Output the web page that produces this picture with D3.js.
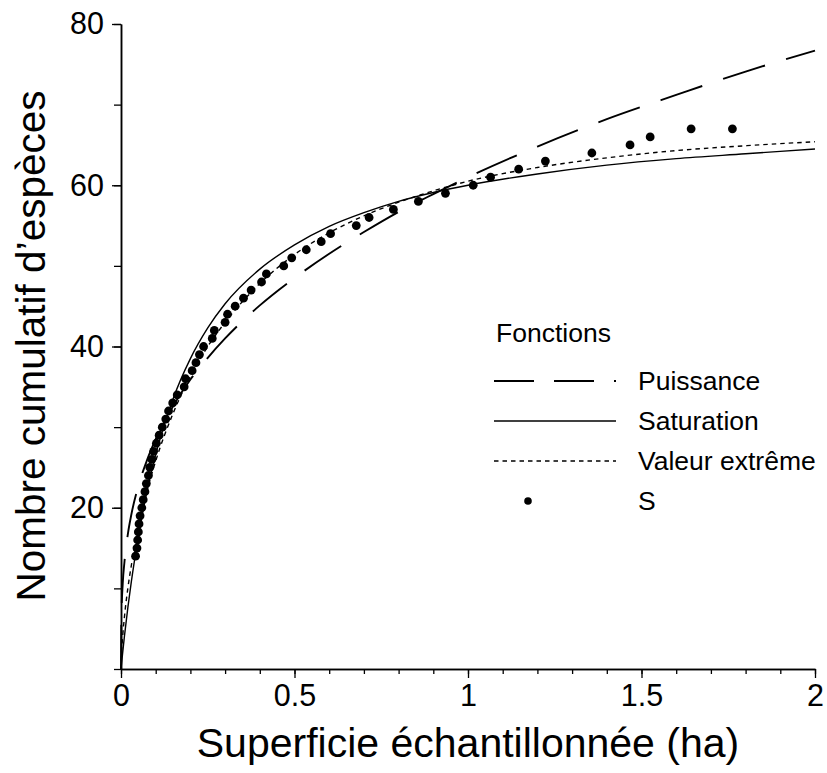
<!DOCTYPE html>
<html>
<head>
<meta charset="utf-8">
<script src="https://cdn.jsdelivr.net/npm/d3@7"></script>
<style>
  html, body { margin: 0; padding: 0; background: #fff; }
  svg { display: block; }
  text { font-family: "Liberation Sans", Arial, Helvetica, sans-serif; fill: #000; }
</style>
</head>
<body>
<svg id="chart" width="827" height="773"></svg>
<script>
// ---- data ----
const curveX = [0, 0.001, 0.005, 0.01, 0.02, 0.03, 0.05, 0.075, 0.1, 0.15, 0.2, 0.25, 0.3, 0.4, 0.5, 0.6, 0.7, 0.8, 0.9, 1.0, 1.2, 1.4, 1.6, 1.8, 2.0];
const puissanceY = [0, 6.2, 10.6, 13.3, 16.8, 19.2, 22.7, 25.9, 28.5, 32.6, 35.9, 38.6, 41.0, 45.1, 48.5, 51.5, 54.2, 56.7, 58.9, 61.0, 64.8, 68.2, 71.2, 74.1, 76.7];
const saturationY = [0, 0.4, 2.1, 4.1, 7.7, 10.9, 16.4, 22.1, 26.6, 33.5, 38.5, 42.3, 45.3, 49.6, 52.6, 54.9, 56.6, 58.0, 59.1, 60.0, 61.4, 62.5, 63.3, 63.9, 64.5];
const extremeY = [0, 1.4, 4.1, 6.5, 10.1, 12.9, 17.6, 22.1, 25.8, 31.7, 36.3, 40.0, 43.0, 47.8, 51.4, 54.1, 56.2, 57.9, 59.3, 60.5, 62.2, 63.4, 64.3, 64.9, 65.4];

const sArea = [0.042, 0.046, 0.048, 0.050, 0.052, 0.055, 0.060, 0.064, 0.069, 0.073,
               0.079, 0.083, 0.089, 0.094, 0.102, 0.110, 0.119, 0.129, 0.137, 0.149,
               0.162, 0.182, 0.186, 0.205, 0.216, 0.226, 0.238, 0.263, 0.269, 0.300,
               0.307, 0.329, 0.353, 0.375, 0.405, 0.419, 0.469, 0.492, 0.534, 0.577,
               0.604, 0.678, 0.715, 0.785, 0.857, 0.935, 1.015, 1.065, 1.146, 1.223,
               1.357, 1.467, 1.525, 1.643, 1.762];
const sSpecies = [14, 15, 16, 17, 18, 19, 20, 21, 22, 23,
                  24, 25, 26, 27, 28, 29, 30, 31, 32, 33,
                  34, 35, 36, 37, 38, 39, 40, 41, 42, 43,
                  44, 45, 46, 47, 48, 49, 50, 51, 52, 53,
                  54, 55, 56, 57, 58, 59, 60, 61, 62, 63,
                  64, 65, 66, 67, 67];

const xMajorTicks = [0, 0.5, 1, 1.5, 2];
const xTickLabels = ["0", "0.5", "1", "1.5", "2"];
const xMinorTicks = [0, 0.1, 0.2, 0.3, 0.4, 0.5, 0.6, 0.7, 0.8, 0.9, 1.0, 1.1, 1.2, 1.3, 1.4, 1.5, 1.6, 1.7, 1.8, 1.9, 2.0];
const yMajorTicks = [20, 40, 60, 80];
const yTickLabels = ["20", "40", "60", "80"];
const yMinorTicks = [0, 10, 20, 30, 40, 50, 60, 70, 80];

const legendTitle = "Fonctions";
const seriesNames = ["Puissance", "Saturation", "Valeur extrême", "S"];
const xTitle = "Superficie échantillonnée (ha)";
const yTitle = "Nombre cumulatif d’espèces";

// ---- drawing ----
const svg = d3.select("#chart");
const x = d3.scaleLinear().domain([0, 2]).range([121, 815]);
const y = d3.scaleLinear().domain([0, 80]).range([669, 24]);

// axes
const gx = svg.append("g").attr("transform", `translate(0,${y(0)})`);
gx.call(d3.axisBottom(x).tickValues(xMinorTicks).tickSize(5).tickSizeOuter(0).tickFormat(""));
gx.append("g").call(d3.axisBottom(x).tickValues(xMajorTicks).tickSize(9).tickSizeOuter(0)
   .tickPadding(6).tickFormat((d, i) => xTickLabels[i]));
gx.selectAll("path.domain").attr("stroke", "#000").attr("stroke-width", 1.5);
gx.selectAll(".tick line").attr("stroke", "#000").attr("stroke-width", 1.3);
gx.selectAll(".tick text").attr("font-size", 30.5).style("font-family", "Liberation Sans, Arial, sans-serif");

const gy = svg.append("g").attr("transform", `translate(${x(0)},0)`);
gy.call(d3.axisLeft(y).tickValues(yMinorTicks).tickSize(7).tickSizeOuter(0).tickFormat(""));
gy.append("g").call(d3.axisLeft(y).tickValues(yMajorTicks).tickSize(9).tickSizeOuter(0)
   .tickPadding(8).tickFormat((d, i) => yTickLabels[i]));
gy.selectAll("path.domain").attr("stroke", "#000").attr("stroke-width", 1.5);
gy.selectAll(".tick line").attr("stroke", "#000").attr("stroke-width", 1.3);
gy.selectAll(".tick text").attr("font-size", 30.5).style("font-family", "Liberation Sans, Arial, sans-serif");

// titles
svg.append("text").attr("x", 468).attr("y", 757).attr("text-anchor", "middle")
   .attr("font-size", 41).text(xTitle);
svg.append("text").attr("transform", `translate(45,346) rotate(-90)`).attr("text-anchor", "middle")
   .attr("font-size", 40.5).text(yTitle);

// curves
const plot = svg.append("g");
const lineOf = ys => d3.line().x((d, i) => x(curveX[i])).y((d, i) => y(ys[i])).curve(d3.curveMonotoneX)(ys);

plot.append("path").attr("d", lineOf(puissanceY)).attr("fill", "none").attr("stroke", "#000")
    .attr("stroke-width", 1.9).attr("stroke-dasharray", "44,22");
plot.append("path").attr("d", lineOf(saturationY)).attr("fill", "none").attr("stroke", "#000")
    .attr("stroke-width", 1.4);
plot.append("path").attr("d", lineOf(extremeY)).attr("fill", "none").attr("stroke", "#000")
    .attr("stroke-width", 1.4).attr("stroke-dasharray", "4.5,4");

plot.selectAll("circle.s").data(sArea).enter().append("circle").attr("class", "s")
    .attr("cx", d => x(d)).attr("cy", (d, i) => y(sSpecies[i])).attr("r", 4.4).attr("fill", "#000");

// legend
const lg = svg.append("g");
lg.append("text").attr("x", 496).attr("y", 342).attr("font-size", 26.5).text(legendTitle);
const rowY = [381, 421, 461, 501];
const dashes = ["40,20", null, "4.5,4", null];
const widths = [1.9, 1.4, 1.4, 0];
seriesNames.forEach((name, i) => {
  if (i < 3) {
    const l = lg.append("line").attr("x1", 494).attr("x2", 616).attr("y1", rowY[i]).attr("y2", rowY[i])
      .attr("stroke", "#000").attr("stroke-width", widths[i]);
    if (dashes[i]) l.attr("stroke-dasharray", dashes[i]);
  } else {
    lg.append("circle").attr("cx", 528).attr("cy", rowY[i]).attr("r", 3.8).attr("fill", "#000");
  }
  lg.append("text").attr("x", 638).attr("y", rowY[i] + 9).attr("font-size", 26.5).text(name);
});
</script>
</body>
</html>
